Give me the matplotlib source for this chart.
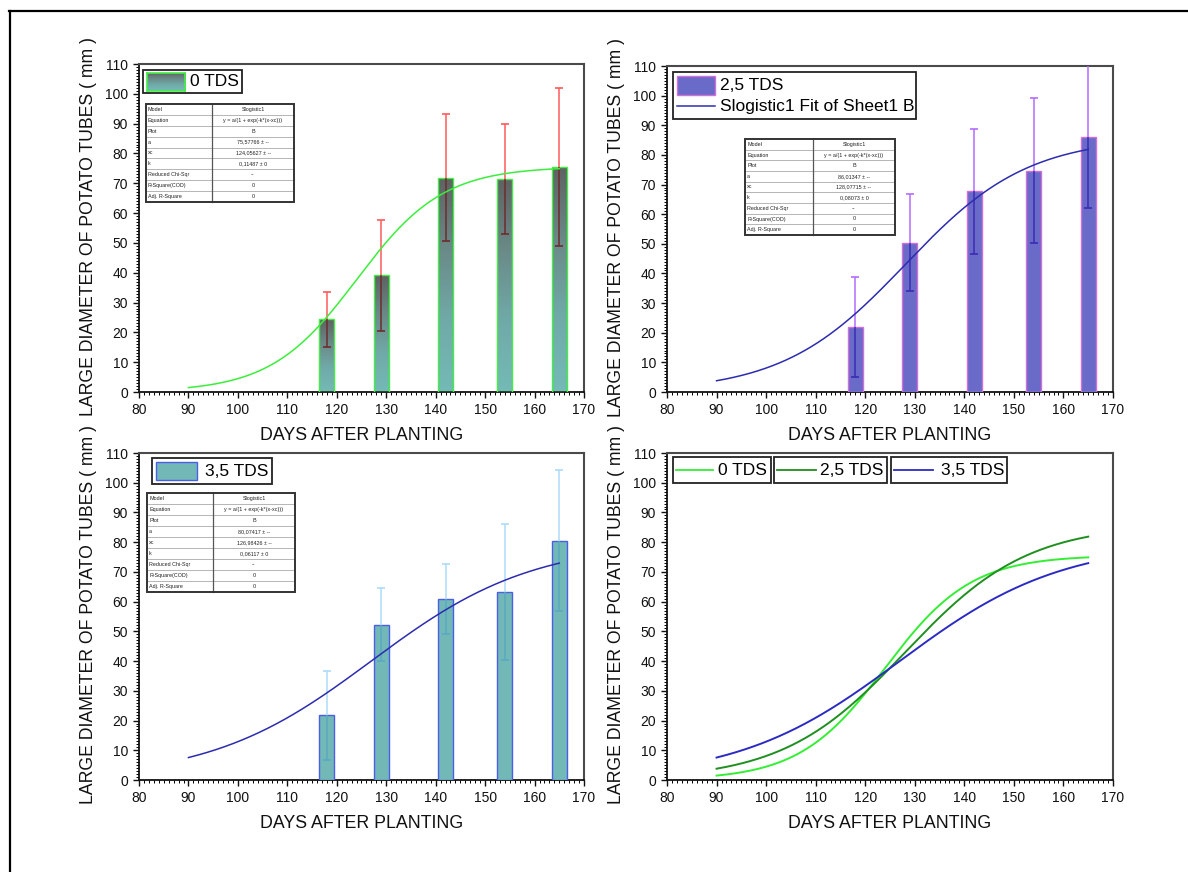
import numpy as np
import matplotlib
matplotlib.use("Agg")
import matplotlib.pyplot as plt
from matplotlib.patches import Rectangle
from matplotlib.lines import Line2D
from matplotlib.ticker import MultipleLocator
from matplotlib.colors import LinearSegmentedColormap

plt.rcParams['font.family'] = ['Liberation Sans', 'DejaVu Sans']

W, H, DPI = 1188, 872, 100

# ---- data -------------------------------------------------------------
days = [118, 129, 142, 154, 165]

tds0_mean = [24.4, 39.1, 71.9, 71.5, 75.5]
tds0_sd = [9.3, 18.5, 21.3, 18.5, 26.5]

tds25_mean = [21.9, 50.4, 67.7, 74.7, 86.2]
tds25_sd = [17.0, 16.4, 21.2, 24.4, 24.0]

tds35_mean = [21.7, 52.2, 60.9, 63.2, 80.5]
tds35_sd = [14.9, 12.3, 11.7, 22.9, 23.8]

series_names = ['0 TDS', '2,5 TDS', '3,5 TDS']

# Slogistic1 fit parameters: y = a / (1 + exp(-k*(x - xc)))
fit_a = [75.57766, 86.01347, 80.07417]
fit_xc = [124.05627, 128.07715, 126.98426]
fit_k = [0.11487, 0.08073, 0.06117]
fit_range = (90, 165)

x_ticks = list(range(80, 171, 10))
y_ticks = list(range(0, 111, 10))
x_label = 'DAYS AFTER PLANTING'
y_label = 'LARGE DIAMETER OF POTATO TUBES ( mm )'


def slogistic(x, a, xc, k):
    return a / (1.0 + np.exp(-k * (x - xc)))


def fmt(v, nd):
    return f"{v:.{nd}f}".replace('.', ',')


# ---- figure helpers (pixel positions measured from the top-left) ------
fig = plt.figure(figsize=(W / DPI, H / DPI), dpi=DPI)
fig.patch.set_facecolor('white')


def fx(x):
    return x / W


def fy(y):
    return 1 - y / H


def add_axes_px(l, t, r, b):
    return fig.add_axes([fx(l), fy(b), (r - l) / W, (b - t) / H])


def rect_px(l, t, r, b, **kw):
    p = Rectangle((fx(l), fy(b)), (r - l) / W, (b - t) / H,
                  transform=fig.transFigure, **kw)
    fig.add_artist(p)
    return p


def line_px(xs, ys, **kw):
    ln = Line2D([fx(v) for v in xs], [fy(v) for v in ys],
                transform=fig.transFigure, **kw)
    fig.add_artist(ln)
    return ln


def text_px(x, y, s, **kw):
    return fig.text(fx(x), fy(y), s, **kw)


LEG_FS = 12.5
teal_grad = LinearSegmentedColormap.from_list(
    'tealgrad', ['#74bab6', '#70aaa8', '#6a8a88', '#5e6262'])


def style_axes(ax):
    ax.set_xlim(80, 170)
    ax.set_ylim(0, 110)
    ax.set_xticks(x_ticks)
    ax.set_yticks(y_ticks)
    ax.xaxis.set_minor_locator(MultipleLocator(1))
    ax.yaxis.set_minor_locator(MultipleLocator(1))
    ax.tick_params(which='major', direction='out', length=4.5, width=1.0,
                   labelsize=10, colors='#111111', top=False, right=False)
    ax.tick_params(which='minor', direction='out', length=2.2, width=0.7,
                   top=False, right=False)
    for side in ('left', 'bottom'):
        ax.spines[side].set_linewidth(1.3)
        ax.spines[side].set_color('#111111')
    for side in ('top', 'right'):
        ax.spines[side].set_linewidth(1.5)
        ax.spines[side].set_color('#4a4a4a')
    ax.set_xlabel(x_label, fontsize=12.8, color='#111111')
    ax.set_ylabel(y_label, fontsize=12.7, color='#111111')
    ax.xaxis.set_label_coords(0.5, -0.106)
    ax.yaxis.set_label_coords(-0.094, 0.506)


def error_bars(ax, mean, sd, up_color, low_color):
    mean = np.asarray(mean)
    sd = np.asarray(sd)
    ax.vlines(days, mean, mean + sd, color=up_color, lw=1.1, zorder=4)
    ax.plot(days, mean + sd, ls='none', marker='_', ms=5.5, mew=1.2,
            color=up_color, zorder=4)
    ax.vlines(days, mean - sd, mean, color=low_color, lw=1.1, zorder=4)
    ax.plot(days, mean - sd, ls='none', marker='_', ms=5.5, mew=1.2,
            color=low_color, zorder=4)


def fit_curve(i):
    x = np.linspace(fit_range[0], fit_range[1], 300)
    return x, slogistic(x, fit_a[i], fit_xc[i], fit_k[i])


def fit_table(i, l, t, r, b, split):
    rows = [
        ('Model', 'Slogistic1'),
        ('Equation', 'y = a/(1 + exp(-k*(x-xc)))'),
        ('Plot', 'B'),
        ('a', fmt(fit_a[i], 5) + ' \u00b1 --'),
        ('xc', fmt(fit_xc[i], 5) + ' \u00b1 --'),
        ('k', fmt(fit_k[i], 5) + ' \u00b1 0'),
        ('Reduced Chi-Sqr', '--'),
        ('R-Square(COD)', '0'),
        ('Adj. R-Square', '0'),
    ]
    rect_px(l, t, r, b, facecolor='white', edgecolor='none', zorder=5)
    rh = (b - t) / len(rows)
    for j in range(1, len(rows)):
        yy = t + j * rh
        line_px([l, r], [yy, yy], color='#b5b5b5', lw=0.7, zorder=6)
    line_px([split, split], [t, b], color='#555555', lw=0.9, zorder=6)
    rect_px(l, t, r, b, facecolor='none', edgecolor='#333333', lw=1.4,
            zorder=7)
    for j, (k, v) in enumerate(rows):
        yc = t + (j + 0.5) * rh
        text_px(l + 2, yc, k, fontsize=3.9, va='center', ha='left',
                color='#222222', zorder=8)
        text_px((split + r) / 2, yc, v, fontsize=3.9, va='center',
                ha='center', color='#222222', zorder=8)


# ---- panel 1 : 0 TDS --------------------------------------------------
ax1 = add_axes_px(139, 64, 584, 392)
bars = ax1.bar(days, tds0_mean, width=3, facecolor='none',
               edgecolor='#44ee44', lw=1.0, zorder=3)
grad = np.linspace(0, 1, 256).reshape(-1, 1)
for bar in bars:
    x0, w, h = bar.get_x(), bar.get_width(), bar.get_height()
    im = ax1.imshow(grad, extent=[x0, x0 + w, 0, h], origin='lower',
                    aspect='auto', cmap=teal_grad, zorder=2)
    im.set_clip_path(bar)
error_bars(ax1, tds0_mean, tds0_sd, '#ff5a5a', '#6e2c2c')
x, y = fit_curve(0)
ax1.plot(x, y, color='#3cee3c', lw=1.1, zorder=5)
style_axes(ax1)

# ---- panel 2 : 2,5 TDS ------------------------------------------------
ax2 = add_axes_px(667, 66, 1113, 392)
ax2.bar(days, tds25_mean, width=3, color='#6a6ac8', edgecolor='#d070d8',
        lw=1.0, zorder=3)
error_bars(ax2, tds25_mean, tds25_sd, '#b46cff', '#3a2cb4')
x, y = fit_curve(1)
ax2.plot(x, y, color='#2c2cb0', lw=1.1, zorder=5)
style_axes(ax2)

# ---- panel 3 : 3,5 TDS ------------------------------------------------
ax3 = add_axes_px(139, 453, 584, 780)
ax3.bar(days, tds35_mean, width=3, color='#72b8b6', edgecolor='#4a5ee8',
        lw=1.0, zorder=3)
error_bars(ax3, tds35_mean, tds35_sd, '#acdcf8', '#5aa8c4')
x, y = fit_curve(2)
ax3.plot(x, y, color='#2c2cb0', lw=1.1, zorder=5)
style_axes(ax3)

# ---- panel 4 : the three fitted curves --------------------------------
ax4 = add_axes_px(667, 453, 1113, 780)
curve_colors = ['#33ee33', '#1f8f1f', '#2b2bc4']
for i in range(3):
    x, y = fit_curve(i)
    ax4.plot(x, y, color=curve_colors[i], lw=1.4, zorder=5)
style_axes(ax4)

# ---- legends ----------------------------------------------------------
# panel 1
rect_px(143, 70, 242, 93, facecolor='white', edgecolor='#222222', lw=1.3,
        zorder=5)
gax = add_axes_px(147, 73, 185, 91)
gax.set_zorder(6)
gax.imshow(np.linspace(0.0, 0.6, 64).reshape(-1, 1), aspect='auto',
           cmap=teal_grad, extent=[0, 1, 0, 1], origin='lower')
gax.set_xticks([])
gax.set_yticks([])
for s in gax.spines.values():
    s.set_color('#44ee44')
    s.set_linewidth(1.2)
text_px(190, 82, series_names[0], fontsize=LEG_FS, va='center', ha='left',
        zorder=7)

# panel 2
rect_px(673, 72, 916, 119, facecolor='white', edgecolor='#222222', lw=1.3,
        zorder=5)
rect_px(677, 76, 715, 95, facecolor='#6a6ac8', edgecolor='#d070d8', lw=1.0,
        zorder=6)
text_px(720, 86, series_names[1], fontsize=LEG_FS, va='center', ha='left',
        zorder=7)
line_px([677, 715], [106.5, 106.5], color='#2c2cb0', lw=1.1, zorder=6)
text_px(720, 106, 'Slogistic1 Fit of Sheet1 B', fontsize=LEG_FS,
        va='center', ha='left', zorder=7)

# panel 3
rect_px(152, 458, 272, 484, facecolor='white', edgecolor='#222222', lw=1.3,
        zorder=5)
rect_px(156, 462, 197, 480, facecolor='#72b8b6', edgecolor='#4a5ee8',
        lw=1.0, zorder=6)
text_px(205, 471, series_names[2], fontsize=LEG_FS, va='center', ha='left',
        zorder=7)

# panel 4
leg4 = [(673, 771, 676, 713, 718), (774, 887, 777, 816, 820),
        (891, 1007, 894, 933, 941)]
for i, (bl, br, l0, l1, tx) in enumerate(leg4):
    rect_px(bl, 457, br, 483, facecolor='white', edgecolor='#222222',
            lw=1.3, zorder=5)
    line_px([l0, l1], [470, 470], color=curve_colors[i], lw=1.3, zorder=6)
    text_px(tx, 470, series_names[i], fontsize=LEG_FS, va='center',
            ha='left', zorder=7)

# ---- fit result tables ------------------------------------------------
fit_table(0, 146, 104, 294, 202, 212)
fit_table(1, 745, 139, 895, 235, 813)
fit_table(2, 147, 493, 295, 592, 213)

# ---- outer frame ------------------------------------------------------
line_px([9, W], [11, 11], color='black', lw=1.6, zorder=10)
line_px([10, 10], [11, H], color='black', lw=1.6, zorder=10)

fig.savefig('out.png', dpi=DPI)
